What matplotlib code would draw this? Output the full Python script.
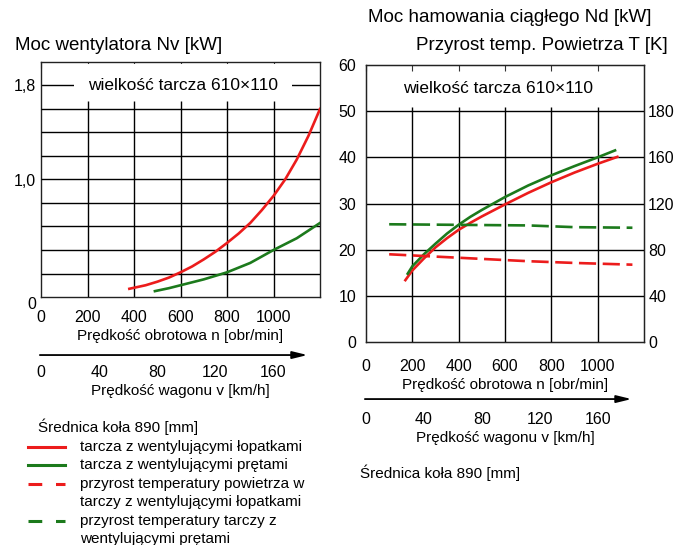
import numpy as np
import matplotlib.pyplot as plt
from matplotlib.lines import Line2D

plt.rcParams['font.family'] = ['Liberation Sans', 'DejaVu Sans']

# -----------------------------
# Dane
# -----------------------------
# Moc wentylatora Nv [kW] w funkcji n [obr/min]
n_lop_went = [380, 450, 500, 550, 600, 650, 700, 750, 800, 850, 900, 950,
              1000, 1050, 1100, 1150, 1200]
nv_lop = [0.07, 0.10, 0.13, 0.165, 0.21, 0.26, 0.32, 0.385, 0.46, 0.54, 0.63, 0.74,
          0.86, 1.00, 1.17, 1.37, 1.60]
n_pret_went = [490, 550, 600, 650, 700, 750, 800, 850, 900, 950, 1000, 1050,
               1100, 1150, 1200]
nv_pret = [0.05, 0.075, 0.10, 0.125, 0.15, 0.18, 0.21, 0.25, 0.29, 0.345, 0.40, 0.45,
           0.50, 0.565, 0.63]

# Moc hamowania ciaglego Nd [kW]
n_lop_ham = [170, 200, 250, 300, 350, 400, 450, 500, 550, 600, 700, 800, 900, 1000, 1085]
nd_lop = [13.4, 15.5, 18.1, 20.5, 22.5, 24.3, 25.8, 27.2, 28.5, 29.8, 32.3, 34.6,
          36.7, 38.6, 40.1]
n_pret_ham = [180, 200, 250, 300, 350, 400, 450, 500, 550, 600, 700, 800, 900, 1000, 1075]
nd_pret = [14.8, 16.4, 19.0, 21.3, 23.5, 25.4, 27.1, 28.6, 30.0, 31.4, 33.9, 36.1,
           38.1, 40.0, 41.5]

# Przyrost temperatury T [K]
n_temp_lop = [100, 300, 500, 700, 900, 1150]
t_lop = [76, 74, 72, 70, 68.5, 67]
n_temp_pret = [100, 400, 700, 900, 1150]
t_pret = [102, 101.5, 101, 99.5, 99]

# Osie
rpm_ticks = [0, 200, 400, 600, 800, 1000]
kmh_ticks = [0, 40, 80, 120, 160]
nv_ticks = [0, 1.0, 1.8]
nv_labels = ["0", "1,0", "1,8"]
nd_ticks = [0, 10, 20, 30, 40, 50, 60]
t_ticks = [0, 40, 80, 120, 160, 200]
t_labels = ["0", "40", "80", "120", "160", "180"]
KMH = 6.25  # obr/min na 1 km/h

legend_labels = [
    "tarcza z wentylującymi łopatkami",
    "tarcza z wentylującymi prętami",
    "przyrost temperatury powietrza w\ntarczy z wentylującymi łopatkami",
    "przyrost temperatury tarczy z\nwentylującymi prętami",
]

RED = "#ec1c1c"
GREEN = "#1c7a1c"
W, H = 677, 545

fig = plt.figure(figsize=(W / 100, H / 100), dpi=100)
axL = fig.add_axes([41 / W, 1 - 297 / H, 279 / W, 235 / H])
axR = fig.add_axes([366 / W, 1 - 342 / H, 278 / W, 277 / H])


def rama(ax, pad_x):
    ax.set_xlim(0, 1200)
    ax.set_xticks(rpm_ticks)
    ax.tick_params(axis='x', top=True, bottom=False, direction='in', length=4,
                   labelsize=11.5, pad=pad_x, color='#333333')
    ax.tick_params(axis='y', length=0, labelsize=11.5)
    for s in ax.spines.values():
        s.set_color('#222222')
        s.set_linewidth(1.0)


def skala_kmh(ax, loc, pad):
    sec = ax.secondary_xaxis(loc, functions=(lambda n: n / KMH, lambda v: v * KMH))
    sec.set_xticks(kmh_ticks)
    sec.tick_params(length=0, pad=pad, labelsize=11.5)
    sec.spines['bottom'].set_visible(False)
    sec.set_xlabel("Prędkość wagonu v [km/h]", fontsize=11, labelpad=3)
    ax.annotate("", xy=(0.965, loc), xytext=(-0.014, loc), xycoords='axes fraction',
                arrowprops=dict(arrowstyle='-|>,head_length=0.9,head_width=0.22',
                                color='black', lw=1.3), annotation_clip=False)


# -----------------------------
# Lewy wykres - moc wentylatora
# -----------------------------
rama(axL, 9)
axL.set_ylim(0, 2.0)
axL.set_yticks(nv_ticks, nv_labels)
axL.get_yticklabels()[0].set_va('top')
axL.hlines(np.arange(0.2, 1.61, 0.2), 0, 1200, color='black', lw=1.0, zorder=3)
axL.hlines(1.8, 0, 1200, color='black', lw=1.0, zorder=1)
axL.vlines(rpm_ticks[1:], 0, 1.67, color='black', lw=1.0, zorder=3)
axL.text(611, 1.8, "wielkość tarcza 610×110", ha='center', va='center', fontsize=12.5,
         zorder=2, bbox=dict(boxstyle='square,pad=0.8', fc='white', ec='none'))
axL.plot(n_lop_went, nv_lop, color=RED, lw=1.9, zorder=4)
axL.plot(n_pret_went, nv_pret, color=GREEN, lw=1.9, zorder=4)
axL.set_xlabel("Prędkość obrotowa n [obr/min]", fontsize=11, labelpad=3)
skala_kmh(axL, -0.247, 7)

# -----------------------------
# Prawy wykres - moc hamowania
# -----------------------------
rama(axR, 12)
axR.set_ylim(0, 60)
axR.set_yticks(nd_ticks)
axR.tick_params(axis='y', pad=7)
axR.hlines(nd_ticks[1:-1], 0, 1200, color='black', lw=1.0, zorder=3)
axR.vlines(rpm_ticks[1:], 0, 51, color='black', lw=1.0, zorder=3)
axR.text(570, 55, "wielkość tarcza 610×110", ha='center', va='center', fontsize=12.5)
axR.plot(n_lop_ham, nd_lop, color=RED, lw=1.9, zorder=4)
axR.plot(n_pret_ham, nd_pret, color=GREEN, lw=1.9, zorder=4)

axT = axR.twinx()
axT.set_ylim(0, 240)
axT.set_yticks(t_ticks, t_labels)
axT.tick_params(axis='y', length=0, pad=3, labelsize=11.5)
axT.plot(n_temp_lop, t_lop, color=RED, lw=1.9, dashes=(6.5, 2.5), zorder=4)
axT.plot(n_temp_pret, t_pret, color=GREEN, lw=1.9, dashes=(6.5, 2.5), zorder=4)
for s in axT.spines.values():
    s.set_color('#222222')

axR.set_xlabel("Prędkość obrotowa n [obr/min]", fontsize=11, labelpad=3)
skala_kmh(axR, -0.206, 9)

# -----------------------------
# Tytuly osi
# -----------------------------
fig.text(15 / W, 1 - 45 / H, "Moc wentylatora Nv [kW]", fontsize=13.5, va='center')
fig.text(368 / W, 1 - 18 / H, "Moc hamowania ciągłego Nd [kW]", fontsize=13.5, va='center')
fig.text(668 / W, 1 - 45 / H, "Przyrost temp. Powietrza T [K]", fontsize=13.5,
         va='center', ha='right')
fig.text(38 / W, 1 - 427 / H, "Średnica koła 890 [mm]", fontsize=11, va='center')
fig.text(360 / W, 1 - 473 / H, "Średnica koła 890 [mm]", fontsize=11, va='center')

# -----------------------------
# Legenda
# -----------------------------
styles = [(RED, None), (GREEN, None), (RED, (4.5, 4.5)), (GREEN, (4.5, 4.5))]
y = 447
step = 18.4
for label, (col, dash) in zip(legend_labels, styles):
    yf = 1 - y / H
    ln = Line2D([28 / W, 65 / W], [yf, yf], transform=fig.transFigure, color=col, lw=2.2)
    if dash:
        ln.set_dashes(dash)
    fig.add_artist(ln)
    for i, line in enumerate(label.split("\n")):
        fig.text(80 / W, 1 - (y + i * step) / H, line, fontsize=11, va='center')
    y += step * len(label.split("\n"))

fig.savefig("out.png", dpi=100)
